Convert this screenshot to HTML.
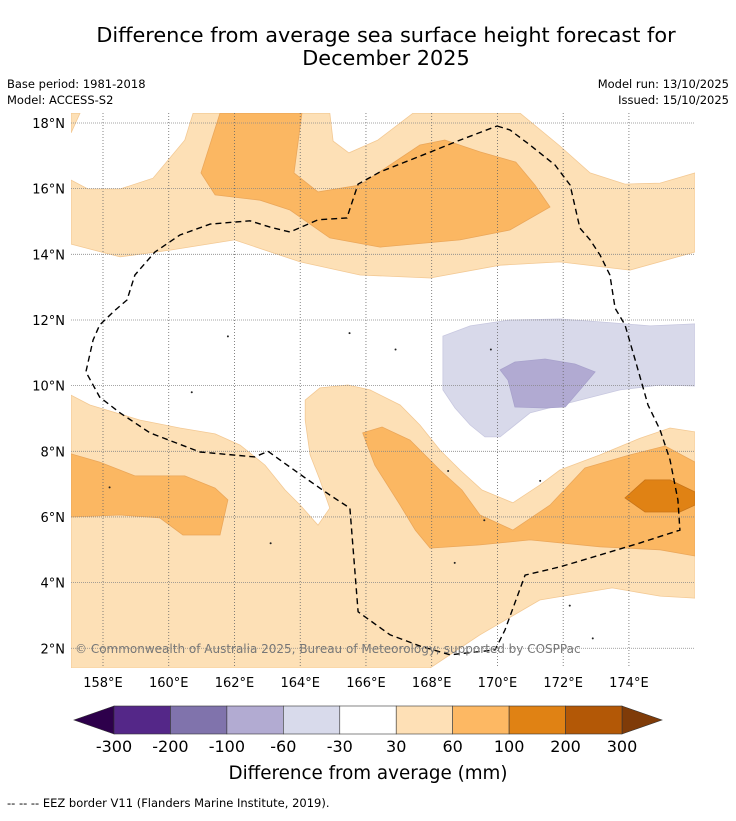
<!DOCTYPE html>
<html><head><meta charset="utf-8"><style>
body{margin:0;background:#fff;width:736px;height:816px;overflow:hidden;font-family:"Liberation Sans",sans-serif}
svg text{font-family:"DejaVu Sans","Liberation Sans",sans-serif}
</style></head><body>
<svg id="c" width="736" height="816">
<text x="386" y="42" font-size="20.8" text-anchor="middle">Difference from average sea surface height forecast for</text>
<text x="386" y="65" font-size="20.8" text-anchor="middle">December 2025</text>
<text x="7" y="88" font-size="11.5">Base period: 1981-2018</text>
<text x="7" y="104" font-size="11.5">Model: ACCESS-S2</text>
<text x="729" y="88" font-size="11.5" text-anchor="end">Model run: 13/10/2025</text>
<text x="729" y="104" font-size="11.5" text-anchor="end">Issued: 15/10/2025</text>
<defs><clipPath id="clp"><rect x="71" y="113" width="624" height="555"/></clipPath></defs>
<g id="map" clip-path="url(#clp)"></g>
<g id="axes"></g>
<g id="cbar"></g>
<text x="368" y="779" font-size="18.3" text-anchor="middle">Difference from average (mm)</text>
<text x="7" y="807" font-size="11.5">-- -- -- EEZ border V11 (Flanders Marine Institute, 2019).</text>
</svg>
<script>
const lonTicks=[158,160,162,164,166,168,170,172,174];
const latTicks=[2,4,6,8,10,12,14,16,18];
const cbLevels=["-300","-200","-100","-60","-30","30","60","100","200","300"];
const cbColors=["#542788","#8073ac","#b2abd2","#d8daeb","#ffffff","#fee0b6","#fdb863","#e08214","#b35806"];
const ext=["#2d004b","#7f3b08"];
const lightOrangeN=[[157.03,16.26],[157.54,15.99],[158.52,15.99],[159.52,16.32],[160.49,17.48],[160.74,18.3],[164.9,18.3],[165.0,17.45],[165.48,17.09],[166.36,17.48],[167.43,18.3],[170.69,18.3],[171.9,17.3],[172.82,16.48],[173.88,16.14],[174.95,16.17],[176.01,16.48],[176.01,14.07],[174.03,13.52],[171.9,13.77],[170.08,13.67],[167.95,13.28],[165.82,13.37],[164.0,13.77],[162.0,14.44],[160.04,14.13],[158.52,13.92],[157.03,14.31]];
const lightOrangeNW=[[157.03,18.3],[157.3,18.3],[157.03,17.7]];
const midOrangeN=[[161.56,18.3],[164.05,18.3],[163.81,16.48],[164.54,15.9],[165.82,16.11],[166.73,16.72],[167.64,17.33],[168.4,17.48],[169.47,17.12],[170.56,16.81],[171.14,16.11],[171.6,15.44],[170.38,14.74],[168.86,14.44],[166.43,14.22],[164.9,14.5],[163.69,15.35],[162.78,15.65],[161.41,15.81],[160.98,16.48]];
const lightOrangeS=[[157.03,9.71],[157.6,9.41],[159.13,8.95],[160.34,8.71],[161.41,8.53],[162.17,8.19],[162.93,7.58],[163.54,6.82],[164.0,6.36],[164.54,5.75],[164.9,6.27],[164.6,7.13],[164.3,7.89],[164.15,8.95],[164.15,9.56],[164.6,9.93],[165.45,10.02],[166.12,9.87],[167.04,9.41],[167.64,8.8],[168.25,8.04],[168.86,7.43],[169.53,6.82],[170.47,6.43],[171.29,6.97],[171.9,7.43],[173.12,7.89],[174.34,8.4],[175.25,8.71],[176.01,8.59],[176.01,3.53],[174.95,3.59],[173.49,3.84],[171.29,3.47],[169.47,2.41],[167.95,1.4],[157.03,1.4]];
const midOrangeSW=[[157.03,7.92],[157.9,7.67],[158.97,7.25],[160.49,7.25],[161.41,6.88],[161.8,6.52],[161.56,5.45],[160.43,5.45],[159.73,5.97],[158.52,6.06],[157.03,6.0]];
const midOrangeS=[[165.9,8.56],[166.49,8.74],[167.34,8.34],[168.25,7.43],[168.92,6.82],[169.47,6.06],[170.47,5.6],[171.6,6.36],[172.66,7.49],[174.03,7.89],[175.1,8.16],[176.01,7.67],[176.01,4.81],[174.95,5.0],[173.12,5.09],[170.99,5.3],[169.47,5.15],[167.95,5.05],[167.5,5.6],[167.04,6.36],[166.27,7.58]];
const darkOrange=[[173.88,6.58],[174.49,7.13],[175.25,7.13],[176.01,6.76],[176.01,6.36],[175.55,6.15],[174.49,6.15]];
const lightPurple=[[168.34,11.51],[169.17,11.82],[170.38,12.0],[171.9,12.03],[173.12,11.94],[174.64,11.82],[176.01,11.88],[176.01,9.99],[174.95,10.02],[173.73,9.87],[172.51,9.56],[170.99,9.17],[170.08,8.44],[169.62,8.44],[169.17,8.8],[168.71,9.32],[168.34,9.87]];
const midPurple=[[170.08,10.48],[170.53,10.72],[171.45,10.81],[172.36,10.66],[172.97,10.42],[172.51,9.87],[172.06,9.35],[171.45,9.32],[170.53,9.35],[170.32,10.17]];
const eez=[[169.99,17.91],[170.38,17.79],[170.99,17.33],[171.75,16.72],[172.21,16.11],[172.51,14.8],[172.82,14.44],[173.12,13.98],[173.42,13.37],[173.58,12.36],[173.88,11.85],[174.19,10.78],[174.58,9.41],[174.95,8.65],[175.25,7.74],[175.49,6.52],[175.55,5.6],[174.34,5.21],[173.12,4.84],[171.9,4.48],[170.84,4.23],[170.23,2.56],[169.93,1.95],[168.56,1.8],[167.64,2.07],[166.73,2.41],[165.76,3.11],[165.51,6.27],[164.9,6.67],[164.15,7.19],[163.38,7.74],[163.02,8.0],[162.62,7.83],[160.95,7.98],[159.43,8.56],[158.52,9.17],[157.9,9.65],[157.48,10.42],[157.7,11.39],[157.9,11.85],[158.37,12.3],[158.73,12.61],[158.97,13.37],[159.58,14.07],[160.34,14.59],[161.26,14.92],[162.47,15.02],[163.08,14.83],[163.69,14.68],[164.54,15.05],[165.42,15.11],[165.76,16.14],[166.43,16.51],[167.64,16.99],[168.86,17.48],[169.99,17.91]];
const islands=[[158.2,6.9],[161.8,11.5],[165.5,11.6],[166.9,11.1],[169.8,11.1],[172.2,3.3],[172.9,2.3],[168.5,7.4],[171.3,7.1],[169.6,5.9],[163.1,5.2],[160.7,9.8],[168.7,4.6]];
function X(lon){return 103+(lon-158)*32.87;}
function Y(lat){return 123+(18-lat)*32.83;}
const NS="http://www.w3.org/2000/svg";
function mk(tag,attrs,parent){const e=document.createElementNS(NS,tag);for(const k in attrs)e.setAttribute(k,attrs[k]);parent.appendChild(e);return e;}
const map=document.getElementById('map');
mk('rect',{x:71,y:113,width:624,height:555,fill:'#fff'},map);
function poly(pts,fill,stroke,name){const p=mk('polygon',{points:pts.map(q=>X(q[0]).toFixed(1)+','+Y(q[1]).toFixed(1)).join(' '),fill:fill,stroke:stroke,'stroke-width':0.8},map);

}
poly(lightOrangeN,'#fde0b6','#f3c994','contour-30-60-north');
poly(lightOrangeNW,'#fde0b6','#f3c994','contour-30-60-northwest');
poly(lightOrangeS,'#fde0b6','#f3c994','contour-30-60-south');
poly(midOrangeN,'#fbb762','#eba75a','contour-60-100-north');
poly(midOrangeSW,'#fbb762','#eba75a','contour-60-100-southwest');
poly(midOrangeS,'#fbb762','#eba75a','contour-60-100-south');
poly(darkOrange,'#e08214','#c87418','contour-100-200');
poly(lightPurple,'#d8d9ea','#c8c8e0','contour-minus30-minus60');
poly(midPurple,'#b1aad2','#a8a2cc','contour-minus60-minus100');
const ax=document.getElementById('axes');
lonTicks.forEach(l=>{const g=mk('line',{x1:X(l),x2:X(l),y1:113,y2:668,stroke:'#666','stroke-width':0.8,'stroke-dasharray':'1,2'},map);


const t=mk('text',{x:X(l),y:687,'font-size':13,'text-anchor':'middle'},ax);t.textContent=l+'°E';

});
latTicks.forEach(l=>{const g=mk('line',{x1:71,x2:695,y1:Y(l),y2:Y(l),stroke:'#888','stroke-width':0.8,'stroke-dasharray':'1,1'},map);


const t=mk('text',{x:65,y:Y(l)+5,'font-size':13,'text-anchor':'end'},ax);t.textContent=l+'°N';

});
islands.forEach(p=>{const c=mk('circle',{cx:X(p[0]),cy:Y(p[1]),r:1,fill:'#222'},map);

});
const ez=mk('polyline',{points:eez.map(q=>X(q[0]).toFixed(1)+','+Y(q[1]).toFixed(1)).join(' '),fill:'none',stroke:'#000','stroke-width':1.4,'stroke-dasharray':'6,4'},map);


const cp=mk('text',{x:75,y:653,'font-size':12,fill:'#777'},map);cp.textContent='© Commonwealth of Australia 2025, Bureau of Meteorology; supported by COSPPac';


const cb=document.getElementById('cbar');
const x0=114,w=508/cbColors.length,y0=706,h=28;
const l1=mk('polygon',{points:`${x0},${y0} ${x0},${y0+h} 74,${y0+h/2}`,fill:ext[0],stroke:'#333','stroke-width':0.6},cb);


const x1=x0+w*cbColors.length;
const r1=mk('polygon',{points:`${x1},${y0} ${x1},${y0+h} 662,${y0+h/2}`,fill:ext[1],stroke:'#333','stroke-width':0.6},cb);


cbColors.forEach((c,i)=>{const r=mk('rect',{x:x0+i*w,y:y0,width:w,height:h,fill:c,stroke:'#333','stroke-width':0.6},cb);

});
cbLevels.forEach((s,i)=>{const t=mk('text',{x:x0+i*w,y:752,'font-size':16,'text-anchor':'middle'},cb);t.textContent=s;

});
</script>
</body></html>
